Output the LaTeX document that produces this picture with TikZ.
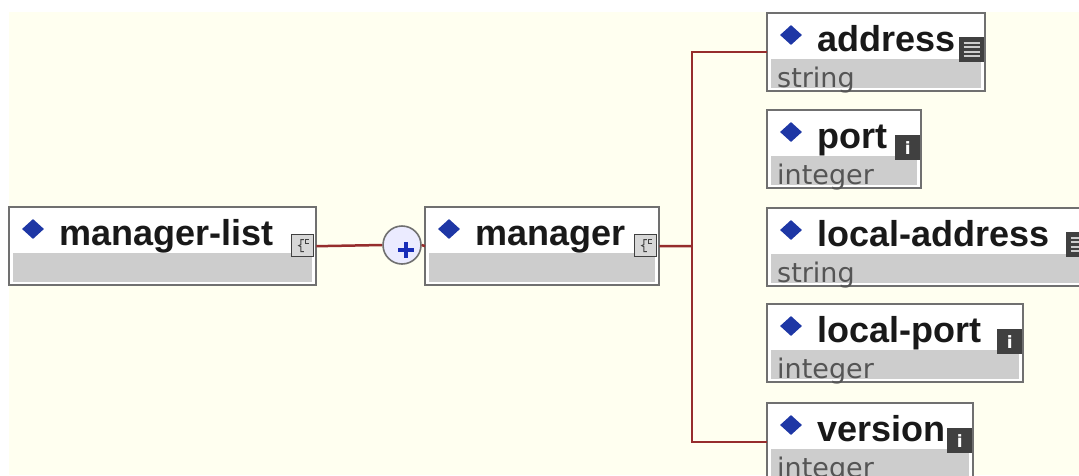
\documentclass[tikz,border=0pt]{standalone}
\usepackage{fontspec}
\usetikzlibrary{shapes.geometric}

\newfontfamily\titlefont{Liberation Sans}
\newfontfamily\typefont{DejaVu Sans}

\definecolor{creambg}{RGB}{255,255,240}
\definecolor{boxline}{RGB}{112,112,112}
\definecolor{bandgray}{RGB}{205,205,205}
\definecolor{connred}{RGB}{150,45,45}
\definecolor{markblue}{RGB}{30,55,165}
\definecolor{icondark}{RGB}{64,64,64}
\definecolor{typegray}{RGB}{85,85,85}

% one element box: name, x, top y, width, title, type
\newcommand{\xsdelem}[6]{%
  \node[elembox, minimum width=#4, anchor=north west] (#1) at (#2,#3) {};
  \fill[bandgray] ([xshift=4pt,yshift=-46pt]#1.north west) rectangle ([xshift=-4pt,yshift=3pt]#1.south east);
  \draw[boxline, line width=2pt] (#1.north west) rectangle (#1.south east);
  \node[diamondmark] at ([xshift=24pt,yshift=-22pt]#1.north west) {};
  \node[titletext, anchor=base west] at ([xshift=50pt,yshift=-38pt]#1.north west) {#5};
  \node[typetext, anchor=base west] at ([xshift=10pt,yshift=-74pt]#1.north west) {#6};
}
% complex type icon
\newcommand{\typeicon}[2]{%
  \node[typeiconbox, anchor=north east] (#1) at ([xshift=-2pt,yshift=-27pt]#2.north east) {};
  \draw[line width=1pt, icondark] ([shift={(1,-6)}]#1.center) -- ++(-3,0) -- ++(0,5) -- ++(-2,1) -- ++(2,1) -- ++(0,5) -- ++(3,0);
  \draw[line width=0.8pt, icondark] ([shift={(6,-6)}]#1.center) -- ++(-3,0) -- ++(0,4) -- ++(3,0);
}
% list icon
\newcommand{\listicon}[2]{%
  \node[darkiconbox, anchor=north east] (#1) at ([xshift=-1pt,yshift=-24pt]#2.north east) {};
  \foreach \dy in {-7,-2.5,2,6.5}
    \draw[line width=1.6pt, bandgray] ([shift={(-8,\dy)}]#1.center) -- ++(16,0);
}
% info icon
\newcommand{\infoicon}[2]{%
  \node[darkiconbox, anchor=north east, text=white, font=\typefont\bfseries\fontsize{17}{17}\selectfont] (#1) at ([xshift=-1pt,yshift=-25pt]#2.north east) {i};
}

\begin{document}
\begin{tikzpicture}[%
    x=1pt, y=-1pt,
    elembox/.style = {shape=rectangle, fill=white, minimum height=78pt, inner sep=0pt},
    diamondmark/.style = {shape=diamond, fill=markblue, minimum width=22pt, minimum height=20pt, inner sep=0pt},
    titletext/.style = {font=\titlefont\bfseries\fontsize{36}{40}\selectfont, text=black!90, inner sep=0pt},
    typetext/.style = {font=\typefont\fontsize{27}{30}\selectfont, text=typegray, inner sep=0pt},
    typeiconbox/.style = {shape=rectangle, draw=icondark, line width=1.2pt, fill=bandgray!80, minimum size=22pt, inner sep=0pt},
    darkiconbox/.style = {shape=rectangle, fill=icondark, minimum size=25pt, inner sep=0pt},
    seqcircle/.style = {shape=circle, draw=boxline, line width=1.6pt, fill=white!92!blue, minimum size=38pt, inner sep=0pt},
    conn/.style = {draw=connred, line width=2.5pt}
    ]
  \useasboundingbox (0,0) rectangle (1079,475);
  \clip (0,0) rectangle (1079,475);
  \fill[white] (0,0) rectangle (1079,475);
  \fill[creambg] (9,12) rectangle (1079,475);

  % parent elements
  \xsdelem{mlist}{9}{207}{307pt}{manager-list}{}
  \typeicon{mlisticon}{mlist}
  \node[seqcircle] (plus) at (402,245) {};
  \draw[line width=3.5pt, markblue!80!blue] ([shift={(-4,5)}]plus.center) -- ++(16,0);
  \draw[line width=3.5pt, markblue!80!blue] ([shift={(4,-3)}]plus.center) -- ++(0,16);
  \xsdelem{manager}{425}{207}{234pt}{manager}{}
  \typeicon{managericon}{manager}

  % children
  \xsdelem{address}{767}{13}{218pt}{address}{string}
  \listicon{addressicon}{address}
  \xsdelem{port}{767}{110}{154pt}{port}{integer}
  \infoicon{porticon}{port}
  \xsdelem{laddress}{767}{208}{325pt}{local-address}{string}
  \listicon{laddressicon}{laddress}
  \xsdelem{lport}{767}{304}{256pt}{local-port}{integer}
  \infoicon{lporticon}{lport}
  \xsdelem{version}{767}{403}{206pt}{version}{integer}
  \infoicon{versionicon}{version}

  % connectors
  \coordinate (fork) at (692,246);
  \draw[conn] (mlist.east) -- (plus.west);
  \draw[conn] (plus.east) -- (manager.west);
  \draw[conn] (manager.east) -- (fork);
  \draw[conn] (address.west) -| (fork) |- (version.west);
\end{tikzpicture}
\end{document}
